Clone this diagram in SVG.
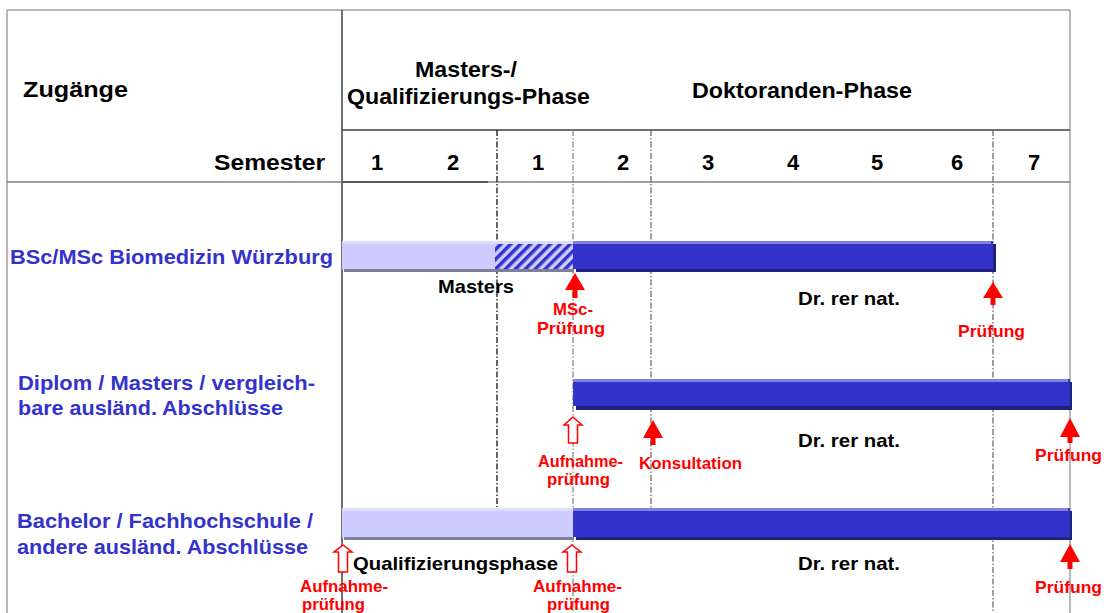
<svg xmlns="http://www.w3.org/2000/svg" width="1104" height="613" viewBox="0 0 1104 613">
<style>
text{font-family:"Liberation Sans",Arial,sans-serif;font-weight:bold}
.hd{font-size:22px;fill:#000}
.lbl{font-size:21px;fill:#3333cc}
.sm{font-size:19px;fill:#000}
.red{font-size:17px;fill:#ff0000}
.mid{text-anchor:middle}
.frame{stroke:#a0a0a0;stroke-width:1.5;fill:none}
.dark{stroke:#404040;stroke-width:1.5;fill:none}
.dd{stroke-width:1.2;stroke-dasharray:6 2 1.5 2;fill:none}
.sarrow{fill:#ff0000}
.harrow{fill:#fff;stroke:#ff0000;stroke-width:1.5}
.hi{fill:#8080e0}
.body{fill:#3333cc}
.sh{fill:#20207f}
.lhi{fill:#dcdcff}
.lbody{fill:#ccccff}
.lsh{fill:#7f7f99}
</style>
<defs>
<pattern id="hatch" width="7" height="7" patternUnits="userSpaceOnUse" patternTransform="rotate(45)">
<rect width="7" height="7" fill="#ccccff"/>
<rect width="3.5" height="7" fill="#3333cc"/>
</pattern>
</defs>
<rect width="1104" height="613" fill="#fff"/>
<g id="grid">
<line class="frame" x1="7" y1="10" x2="1070" y2="10"/>
<line class="frame" x1="7" y1="10" x2="7" y2="613"/>
<line class="frame" x1="1070" y1="10" x2="1070" y2="613"/>
<line class="dark" x1="342" y1="10" x2="342" y2="613"/>
<line class="dark" x1="342" y1="130" x2="1070" y2="130"/>
<line class="frame" x1="7" y1="182" x2="1070" y2="182" style="stroke:#808080"/>
<line class="dark" x1="342" y1="182" x2="488" y2="182"/>
<line class="dd" stroke="#000" x1="497" y1="130" x2="497" y2="507"/>
<line class="dd" stroke="#808080" x1="573" y1="130" x2="573" y2="613"/>
<line class="dd" stroke="#606060" x1="651" y1="130" x2="651" y2="508"/>
<line class="dd" stroke="#606060" x1="993" y1="130" x2="993" y2="613"/>
</g>
<g id="header">
<text class="hd" x="23" y="97" textLength="105" lengthAdjust="spacingAndGlyphs">Zugänge</text>
<text class="hd" x="214" y="170" textLength="111" lengthAdjust="spacingAndGlyphs">Semester</text>
<text class="hd" x="415" y="77" textLength="102" lengthAdjust="spacingAndGlyphs">Masters-/</text>
<text class="hd" x="347" y="104" textLength="243" lengthAdjust="spacingAndGlyphs">Qualifizierungs-Phase</text>
<text class="hd" x="692" y="98" textLength="220" lengthAdjust="spacingAndGlyphs">Doktoranden-Phase</text>
<text class="hd mid" x="377" y="170">1</text>
<text class="hd mid" x="453" y="170">2</text>
<text class="hd mid" x="538" y="170">1</text>
<text class="hd mid" x="623" y="170">2</text>
<text class="hd mid" x="708" y="170">3</text>
<text class="hd mid" x="793" y="170">4</text>
<text class="hd mid" x="877" y="170">5</text>
<text class="hd mid" x="957" y="170">6</text>
<text class="hd mid" x="1034" y="170">7</text>
</g>
<g id="row1">
<text class="lbl" x="10" y="264" textLength="323" lengthAdjust="spacingAndGlyphs">BSc/MSc Biomedizin Würzburg</text>
<rect class="lsh" x="344" y="244" width="230" height="28"/>
<rect class="sh" x="576" y="244" width="420" height="28"/>
<rect class="lbody" x="342" y="241" width="153" height="28"/>
<rect class="lhi" x="342" y="241" width="153" height="3"/>
<rect fill="url(#hatch)" x="495" y="244" width="78" height="25"/>
<rect class="lhi" x="495" y="241" width="78" height="3"/>
<rect class="body" x="573" y="241" width="420" height="28"/>
<rect class="hi" x="573" y="241" width="418" height="3"/>
<text class="sm" x="438" y="293" textLength="76" lengthAdjust="spacingAndGlyphs">Masters</text>
<text class="red" x="553" y="315" textLength="40" lengthAdjust="spacingAndGlyphs">MSc-</text>
<text class="red" x="537" y="334" textLength="68" lengthAdjust="spacingAndGlyphs">Prüfung</text>
<text class="sm" x="798" y="305" textLength="102" lengthAdjust="spacingAndGlyphs">Dr. rer nat.</text>
<text class="red" x="958" y="337" textLength="67" lengthAdjust="spacingAndGlyphs">Prüfung</text>
</g>
<g id="row2">
<text class="lbl" x="18" y="390" textLength="297" lengthAdjust="spacingAndGlyphs">Diplom / Masters / vergleich-</text>
<text class="lbl" x="18" y="415" textLength="265" lengthAdjust="spacingAndGlyphs">bare ausländ. Abschlüsse</text>
<rect class="sh" x="576" y="382" width="496" height="28"/>
<rect class="body" x="573" y="379" width="497" height="27"/>
<rect class="hi" x="573" y="379" width="495" height="3"/>
<text class="red" x="538" y="467" textLength="85" lengthAdjust="spacingAndGlyphs">Aufnahme-</text>
<text class="red" x="547" y="485" textLength="63" lengthAdjust="spacingAndGlyphs">prüfung</text>
<text class="red" x="639" y="469" textLength="103" lengthAdjust="spacingAndGlyphs">Konsultation</text>
<text class="sm" x="798" y="447" textLength="102" lengthAdjust="spacingAndGlyphs">Dr. rer nat.</text>
<text class="red" x="1035" y="461" textLength="67" lengthAdjust="spacingAndGlyphs">Prüfung</text>
</g>
<g id="row3">
<text class="lbl" x="17" y="528" textLength="296" lengthAdjust="spacingAndGlyphs">Bachelor / Fachhochschule /</text>
<text class="lbl" x="17" y="554" textLength="291" lengthAdjust="spacingAndGlyphs">andere ausländ. Abschlüsse</text>
<rect class="lsh" x="344" y="511" width="230" height="29"/>
<rect class="sh" x="576" y="511" width="496" height="29"/>
<rect class="lbody" x="342" y="508" width="231" height="29"/>
<rect class="lhi" x="342" y="508" width="231" height="3"/>
<rect class="body" x="573" y="508" width="497" height="29"/>
<rect class="hi" x="573" y="508" width="495" height="3"/>
<text class="sm" x="353" y="570" textLength="205" lengthAdjust="spacingAndGlyphs">Qualifizierungsphase</text>
<text class="red" x="300" y="592" textLength="88" lengthAdjust="spacingAndGlyphs">Aufnahme-</text>
<text class="red" x="302" y="610" textLength="63" lengthAdjust="spacingAndGlyphs">prüfung</text>
<text class="red" x="533" y="592" textLength="89" lengthAdjust="spacingAndGlyphs">Aufnahme-</text>
<text class="red" x="547" y="610" textLength="63" lengthAdjust="spacingAndGlyphs">prüfung</text>
<text class="sm" x="798" y="570" textLength="102" lengthAdjust="spacingAndGlyphs">Dr. rer nat.</text>
<text class="red" x="1035" y="593" textLength="67" lengthAdjust="spacingAndGlyphs">Prüfung</text>
</g>
<g id="arrows">
<polygon class="sarrow" points="575,273 585,290 577.5,290 577.5,298 572.5,298 572.5,290 565,290"/>
<polygon class="sarrow" points="993,282 1003,298 995.5,298 995.5,305 990.5,305 990.5,298 983,298"/>
<polygon class="harrow" points="573,417 582,425 577.5,425 577.5,443 568.5,443 568.5,425 564,425"/>
<polygon class="sarrow" points="653,420 663,438 655.5,438 655.5,445 650.5,445 650.5,438 643,438"/>
<polygon class="sarrow" points="1070,418 1080,437 1072.5,437 1072.5,443 1067.5,443 1067.5,437 1060,437"/>
<polygon class="harrow" points="343,545 352,552 347.5,552 347.5,572 338.5,572 338.5,552 334,552"/>
<polygon class="harrow" points="572,545 581,552 576.5,552 576.5,572 567.5,572 567.5,552 563,552"/>
<polygon class="sarrow" points="1070,544 1080,562 1072.5,562 1072.5,569 1067.5,569 1067.5,562 1060,562"/>
</g>
</svg>
